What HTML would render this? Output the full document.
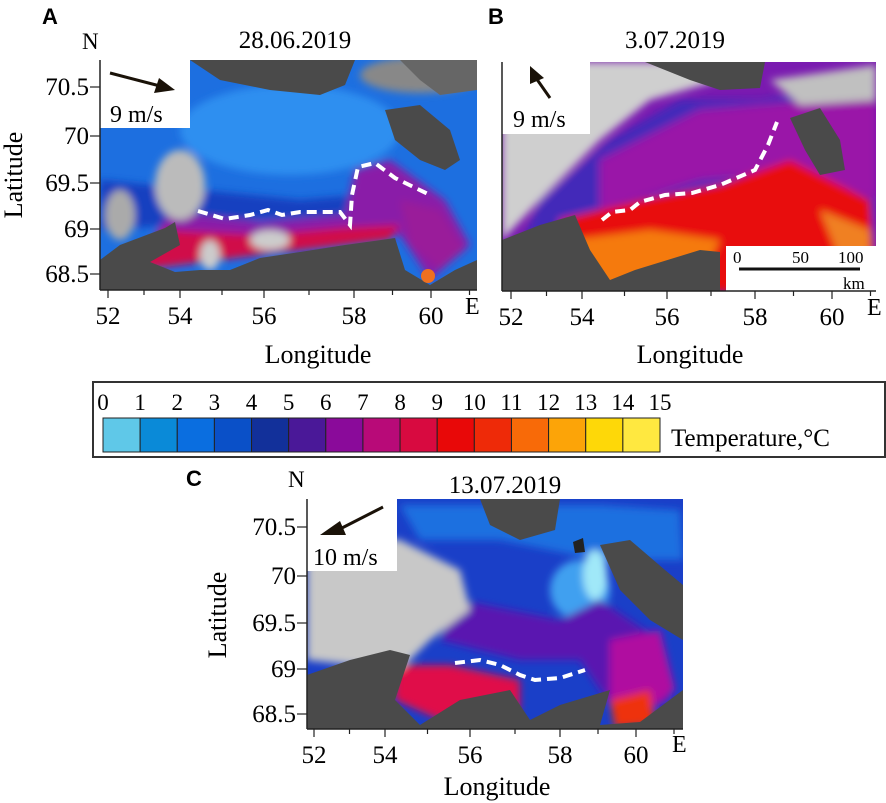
<!DOCTYPE html>
<html><head><meta charset="utf-8"><style>
body{margin:0;background:#fff;}
svg{display:block;font-family:"Liberation Serif",serif;}
.pl{font-family:"Liberation Sans",sans-serif;font-weight:bold;font-size:22px;}
</style></head><body>
<svg id="fig" width="886" height="803" viewBox="0 0 886 803" xmlns="http://www.w3.org/2000/svg">
<defs>
<filter id="bl" x="-10%" y="-10%" width="120%" height="120%"><feGaussianBlur stdDeviation="4"/></filter>
<clipPath id="cA"><rect x="100" y="60" width="377" height="230"/></clipPath>
<clipPath id="cB"><rect x="502" y="62" width="374" height="229"/></clipPath>
<clipPath id="cC"><rect x="307" y="499" width="376" height="230"/></clipPath>
</defs>

<!-- Panel A map -->
<g clip-path="url(#cA)">
<rect x="100" y="60" width="377" height="230" fill="#1d6fe0"/>
<g filter="url(#bl)">
<ellipse cx="290" cy="130" rx="110" ry="45" fill="#2f8ff0"/>
<path d="M100 180 L200 190 L300 200 L360 195 L360 215 L250 220 L100 230Z" fill="#1240c0"/>
<path d="M170 212 L260 222 L345 215 L355 170 L390 160 L445 200 L470 245 L430 280 L400 235 L330 240 L250 248 L140 260Z" fill="#8a1aa8"/>
<path d="M160 230 L260 235 L340 228 L400 225 L390 240 L260 255 L140 270Z" fill="#d0104a"/>
<path d="M400 200 L440 210 L465 250 L440 270 L410 245Z" fill="#9a1a9a"/>
<ellipse cx="180" cy="185" rx="25" ry="35" fill="#bbbbbb"/>
<ellipse cx="120" cy="215" rx="15" ry="25" fill="#aaaaaa"/>
<ellipse cx="420" cy="75" rx="60" ry="18" fill="#888"/>
<ellipse cx="270" cy="240" rx="20" ry="10" fill="#ccc"/>
<ellipse cx="210" cy="255" rx="10" ry="15" fill="#ccc"/>
</g>
<path d="M190 60 L355 60 L345 85 L320 95 L270 90 L220 80Z" fill="#4a4a4a"/>
<path d="M385 110 L420 105 L450 130 L460 160 L445 170 L420 160 L395 140Z" fill="#4a4a4a"/>
<path d="M400 60 L477 60 L477 90 L440 95 L420 80Z" fill="#666"/>
<path d="M100 290 L100 260 L120 245 L165 228 L175 222 L180 245 L150 262 L175 272 L200 270 L230 270 L260 258 L300 252 L345 245 L395 238 L405 270 L430 285 L455 270 L477 260 L477 290Z" fill="#4a4a4a"/>
<ellipse cx="428" cy="276" rx="7" ry="7" fill="#f07020"/>
</g>
<path d="M198 211 L225 219 L250 215 L268 210 L282 215 L300 212 L340 212 L350 225 L352 195 L358 167 L375 163 L395 178 L430 195" fill="none" stroke="#fff" stroke-width="4" stroke-dasharray="10,6"/>
<rect x="100" y="60" width="90" height="68" fill="#fff"/>
<line x1="110" y1="73" x2="160" y2="86" stroke="#1a1208" stroke-width="3"/>
<polygon points="175,90 154,93 159,78" fill="#1a1208"/>
<text x="110" y="122" font-size="24">9 m/s</text>

<!-- Panel B map -->
<g clip-path="url(#cB)">
<rect x="502" y="62" width="374" height="229" fill="#7a1ab0"/>
<g filter="url(#bl)">
<path d="M502 62 L750 62 L720 80 L650 100 L600 140 L540 200 L502 240Z" fill="#cfcfcf"/>
<path d="M540 200 L610 140 L680 100 L760 100 L820 90 L876 70 L876 291 L502 291Z" fill="#2230c0" opacity="0.6"/>
<path d="M600 160 L700 110 L820 100 L876 90 L876 200 L800 170 L700 180 L600 210Z" fill="#9a18a8"/>
<path d="M560 220 L640 200 L720 185 L790 160 L870 200 L876 291 L560 291Z" fill="#e81010"/>
<path d="M570 240 L650 230 L720 240 L700 280 L600 290Z" fill="#f57a10"/>
<path d="M820 210 L870 230 L870 270 L840 260Z" fill="#f08020"/>
<path d="M770 80 L876 65 L876 100 L800 105Z" fill="#c0c0c0"/>
</g>
<path d="M645 62 L765 62 L760 88 L720 90 L690 80Z" fill="#4a4a4a"/>
<path d="M790 118 L820 108 L840 140 L845 170 L820 175 L805 150Z" fill="#4a4a4a"/>
<path d="M502 291 L502 240 L540 225 L575 215 L590 250 L610 280 L635 270 L700 250 L720 252 L720 291Z" fill="#4a4a4a"/>
</g>
<path d="M602 220 L612 212 L630 210 L640 202 L665 195 L692 193 L720 185 L755 170 L768 145 L777 122" fill="none" stroke="#fff" stroke-width="4" stroke-dasharray="10,6"/>
<rect x="502" y="62" width="88" height="72" fill="#fff"/>
<line x1="550" y1="98" x2="536" y2="78" stroke="#1a1208" stroke-width="3"/>
<polygon points="530,66 544,78 530,84" fill="#1a1208"/>
<text x="513" y="127" font-size="24">9 m/s</text>
<g>
<rect x="726" y="246" width="150" height="45" fill="#fff"/>
<line x1="739" y1="269" x2="860" y2="269" stroke="#111" stroke-width="3"/>
<text x="733" y="263" font-size="17">0</text><text x="792" y="263" font-size="17">50</text><text x="838" y="263" font-size="17">100</text>
<text x="843" y="289" font-size="17">km</text>
</g>

<!-- Panel C map -->
<g clip-path="url(#cC)">
<rect x="307" y="499" width="376" height="230" fill="#1a3fc8"/>
<g filter="url(#bl)">
<path d="M400 505 L600 505 L680 510 L683 560 L600 560 L500 540 L420 540Z" fill="#1e6fe0"/>
<ellipse cx="580" cy="590" rx="30" ry="30" fill="#40a0f0"/>
<ellipse cx="595" cy="575" rx="12" ry="25" fill="#a0e8f8"/>
<path d="M460 600 L560 620 L600 600 L660 640 L670 700 L620 720 L580 660 L520 660 L440 640Z" fill="#5a18b0"/>
<path d="M610 640 L660 630 L675 690 L640 720 L610 700Z" fill="#b010a0"/>
<path d="M395 665 L450 665 L520 680 L520 710 L440 720 L395 700Z" fill="#e0104a"/>
<path d="M610 700 L650 690 L655 725 L615 728Z" fill="#ee3010"/>
<path d="M307 530 L400 540 L460 570 L470 610 L430 640 L400 670 L307 660Z" fill="#c8c8c8"/>
</g>
<path d="M480 499 L560 499 L555 530 L520 540 L490 525Z" fill="#4a4a4a"/>
<path d="M600 545 L630 540 L665 570 L683 585 L683 640 L650 620 L620 590Z" fill="#4a4a4a"/>
<path d="M307 729 L307 675 L350 660 L390 650 L410 655 L395 700 L420 725 L460 700 L510 690 L530 720 L560 705 L610 690 L600 725 L640 722 L683 690 L683 729Z" fill="#4a4a4a"/>
<path d="M573 542 L583 538 L585 552 L575 553Z" fill="#222"/>
</g>
<path d="M455 663 L480 660 L500 665 L520 675 L535 680 L560 678 L585 670" fill="none" stroke="#fff" stroke-width="4" stroke-dasharray="10,6"/>
<rect x="307" y="499" width="90" height="72" fill="#fff"/>
<line x1="383" y1="507" x2="338" y2="530" stroke="#1a1208" stroke-width="3"/>
<polygon points="320,535 340,521 346,535" fill="#1a1208"/>
<text x="313" y="565" font-size="24">10 m/s</text>

<!-- labels -->
<text class="pl" x="42" y="24">A</text>
<text class="pl" x="488" y="24">B</text>
<text class="pl" x="186" y="486">C</text>
<text x="295" y="48" font-size="25" text-anchor="middle">28.06.2019</text>
<text x="675" y="48" font-size="25" text-anchor="middle">3.07.2019</text>
<text x="505" y="493" font-size="25" text-anchor="middle">13.07.2019</text>
<text x="82" y="49" font-size="23">N</text>
<text x="288" y="487" font-size="23">N</text>
<text x="465" y="314" font-size="24">E</text>
<text x="867" y="315" font-size="24">E</text>
<text x="672" y="752" font-size="24">E</text>
<text x="318" y="363" font-size="26" text-anchor="middle">Longitude</text>
<text x="690" y="363" font-size="26" text-anchor="middle">Longitude</text>
<text x="497" y="795" font-size="26" text-anchor="middle">Longitude</text>
<text transform="translate(22,175) rotate(-90)" font-size="26" text-anchor="middle">Latitude</text>
<text transform="translate(226,615) rotate(-90)" font-size="26" text-anchor="middle">Latitude</text>

<!-- colorbar -->
<g>
<rect x="93" y="382" width="792" height="75" fill="#fff" stroke="#333" stroke-width="2"/>
<g id="cbar"></g>
<text x="671" y="446" font-size="25">Temperature,°C</text>
</g>
<g id="axes"></g>
</svg>
<script>
const NS='http://www.w3.org/2000/svg';
const lonTicks=[52,54,56,58,60];
const latTicks=[70.5,70,69.5,69,68.5];
const cbTicks=[0,1,2,3,4,5,6,7,8,9,10,11,12,13,14,15];
const cbColors=['#5fc8e8','#0a8ad8','#0a6ee0','#0a50c8','#12309a','#4a1898','#8a0a9a','#b80a78','#d80a40','#e80808','#ee2a08','#f86a08','#fca408','#fed808','#ffe840'];
const panels=[
 {id:'a',x0:100,x1:477,y0:60,y1:290,lonPx:[108,180,264,354,431],latPx:[87,136,183,229,274],lat:true},
 {id:'b',x0:502,x1:876,y0:62,y1:291,lonPx:[511,582,667,755,832],lat:false},
 {id:'c',x0:307,x1:683,y0:499,y1:729,lonPx:[314,385,470,560,636],latPx:[527,576,623,669,714],lat:true}
];
function mk(t,a,p){const e=document.createElementNS(NS,t);for(const k in a)e.setAttribute(k,a[k]);(p||document.getElementById('axes')).appendChild(e);return e;}
function lonX(p,v){
 const i=Math.max(0,Math.min(lonTicks.length-2,Math.floor((v-lonTicks[0])/2)));
 const a=lonTicks[i],b=lonTicks[i+1];return p.lonPx[i]+(v-a)/(b-a)*(p.lonPx[i+1]-p.lonPx[i]);}
function latY(p,v){const i=Math.max(0,Math.min(latTicks.length-2,Math.floor((latTicks[0]-v)/0.5)));
 const a=latTicks[i],b=latTicks[i+1];return p.latPx[i]+(v-a)/(b-a)*(p.latPx[i+1]-p.latPx[i]);}
panels.forEach(p=>{
 const ax=mk('line',{x1:p.x0,y1:p.y1,x2:p.x1,y2:p.y1,stroke:'#222','stroke-width':1.5});
 
 
 const ay=mk('line',{x1:p.x0,y1:p.y0,x2:p.x0,y2:p.y1,stroke:'#222','stroke-width':1.5});
 
 
 for(let v=52;v<=61;v++){const x=lonX(p,v);
  mk('line',{x1:x,y1:p.y1,x2:x,y2:p.y1+(v%2?5:8),stroke:'#222','stroke-width':1.2});}
 lonTicks.forEach(v=>{const t=mk('text',{x:lonX(p,v),y:p.y1+34,'font-size':25,'text-anchor':'middle'});t.textContent=v;
  
  });
 if(p.lat){latTicks.forEach(v=>{const y=latY(p,v);
  mk('line',{x1:p.x0-10,y1:y,x2:p.x0,y2:y,stroke:'#222','stroke-width':1.2});
  const t=mk('text',{x:p.x0-11,y:y+8,'font-size':25,'text-anchor':'end'});t.textContent=v;
  
  });}
});
const cb=document.getElementById('cbar');const bx0=103,bx1=660,by=418,bh=34;
const sw=(bx1-bx0)/cbColors.length;
cbColors.forEach((c,i)=>{const r=mk('rect',{x:bx0+i*sw,y:by,width:sw,height:bh,fill:c,stroke:'#222','stroke-width':1},cb);
 
 });
cbTicks.forEach((v,i)=>{const t=mk('text',{x:bx0+i*sw,y:410,'font-size':23,'text-anchor':'middle'},cb);t.textContent=v;
 
 });
</script>
</body></html>
